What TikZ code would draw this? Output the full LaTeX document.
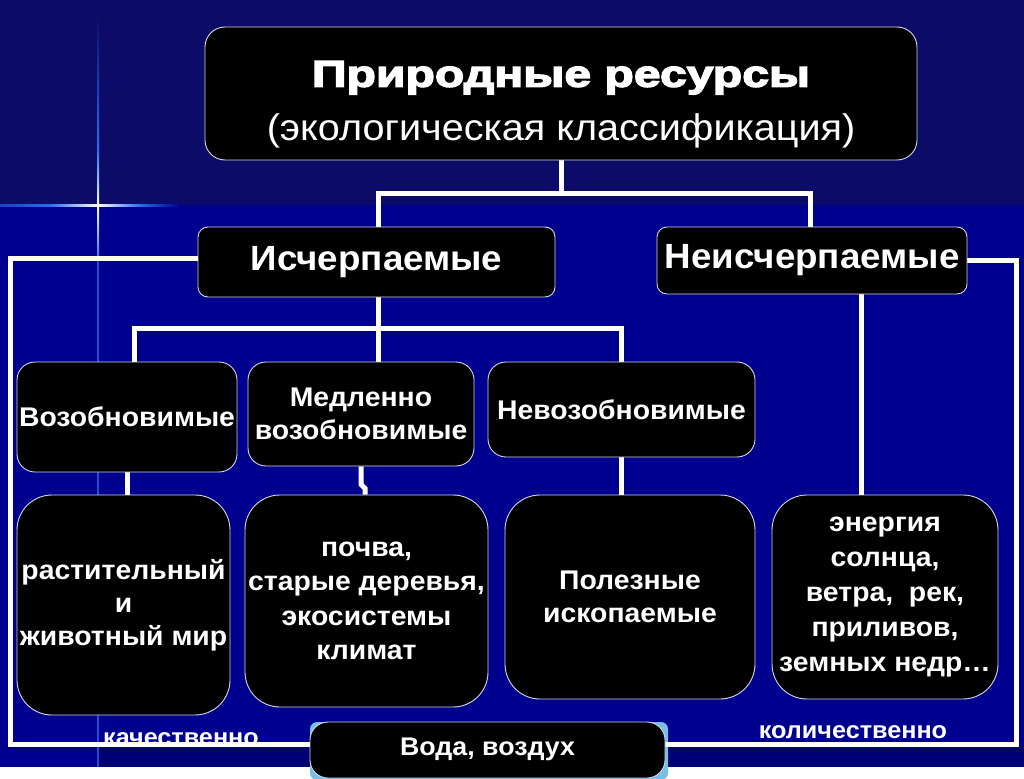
\documentclass[tikz,border=0pt]{standalone}
\usepackage{fontspec}
\setmainfont[FakeStretch=1.05]{Liberation Sans}
\newfontfamily\titlefont[UprightFont={* Bold},FakeStretch=1.30,FakeBold=4]{Liberation Sans}
\newfontfamily\subfont[FakeStretch=1.07]{Liberation Sans}
\usetikzlibrary{calc}
\pgfdeclarelayer{bg}
\pgfdeclarelayer{lines}
\pgfsetlayers{bg,lines,main}
\definecolor{bgtop}{RGB}{12,12,104}
\definecolor{bgbot}{RGB}{0,0,142}
\definecolor{bgdark}{RGB}{0,0,115}
\definecolor{flare}{RGB}{40,110,240}
\definecolor{vodablue}{RGB}{120,190,235}
\definecolor{edge}{RGB}{215,215,225}
\tikzset{
  box/.style={draw=edge, line width=0.9pt, fill=black, text=white, align=center, inner sep=0pt},
  body/.style={font=\bfseries\fontsize{27}{34}\selectfont},
  conn/.style={draw=white, line width=5pt},
  lbl/.style={text=white, font=\bfseries\fontsize{24}{28}\selectfont, inner sep=0pt}
}
\begin{document}
\begin{tikzpicture}[x=1pt,y=-1pt]
\begin{pgfonlayer}{bg}
  \fill[bgtop] (0,0) rectangle (1024,205);
  \fill[bgbot] (0,205) rectangle (1024,767);
  \fill[bgdark] (98,748) rectangle (1024,767);
  \useasboundingbox (0,0) rectangle (1024,767);
  % flare
  \shade[top color=bgtop, bottom color=flare] (97,15) rectangle (99,150);
  \shade[top color=flare, bottom color=white] (97,150) rectangle (99,205);
  \shade[top color=white, bottom color=flare] (97,205) rectangle (99,260);
  \fill[flare!70!bgbot] (97,260) rectangle (99,767);
  \shade[left color=flare!60!bgbot, right color=flare] (0,204) rectangle (50,206);
  \shade[left color=flare, right color=white] (50,204) rectangle (98,206);
  \shade[left color=white, right color=flare] (98,204) rectangle (140,206);
  \shade[left color=flare, right color=bgbot] (140,204) rectangle (180,206);
  \fill[vodablue, rounded corners=7pt] (310,722) rectangle (668,780);
\end{pgfonlayer}

% boxes
\node[box, rounded corners=20pt, minimum width=712pt, minimum height=133pt, font=\fontsize{37}{54}\selectfont] (top) at (561,93.5)
  {{\titlefont\fontsize{37}{54}\selectfont\rule{0pt}{48pt}Природные ресурсы}\\{\subfont\fontsize{37}{54}\selectfont (экологическая классификация)}};
\node[box, rounded corners=10pt, minimum width=357pt, minimum height=70pt, font=\bfseries\fontsize{35}{40}\selectfont] (isch) at (376.5,262) {Исчерпаемые};
\node[box, rounded corners=10pt, minimum width=310pt, minimum height=67pt, font=\bfseries\fontsize{35}{40}\selectfont] (neisch) at (812,260.5) {Неисчерпаемые};
\node[box, body, rounded corners=18pt, minimum width=220pt, minimum height=110pt] (vozob) at (127,417) {Возобновимые};
\node[box, body, rounded corners=18pt, minimum width=226pt, minimum height=104pt, font=\bfseries\fontsize{27}{33}\selectfont] (medl) at (361,414) {Медленно\\возобновимые};
\node[box, body, rounded corners=18pt, minimum width=267pt, minimum height=95pt] (nevozob) at (621.5,409.5) {Невозобновимые};
\node[box, body, rounded corners=35pt, minimum width=213pt, minimum height=220pt, font=\bfseries\fontsize{27}{33}\selectfont] (rast) at (123.5,605) {растительный\\и\\животный мир};
\node[box, body, rounded corners=35pt, minimum width=243pt, minimum height=212pt, font=\bfseries\fontsize{27}{34.5}\selectfont] (pochva) at (366.5,601) {почва,\\старые деревья,\\экосистемы\\климат};
\node[box, body, rounded corners=35pt, minimum width=250pt, minimum height=204pt, font=\bfseries\fontsize{27}{33}\selectfont] (polez) at (630,597) {Полезные\\ископаемые};
\node[box, body, rounded corners=35pt, minimum width=226pt, minimum height=204pt, font=\bfseries\fontsize{27}{35}\selectfont] (energ) at (885,597) {энергия\\солнца,\\ветра,\ \ рек,\\приливов,\\земных недр…};
\node[box, rounded corners=18pt, minimum width=355pt, minimum height=56pt, font=\bfseries\fontsize{25.5}{30}\selectfont, text depth=10pt, text height=20pt] (voda) at (487.5,750) {Вода, воздух};

\begin{pgfonlayer}{lines}
  \node[lbl, anchor=base] (kach) at (181,745) {качественно};
  \node[lbl, anchor=base] (kol) at (853,738) {количественно};
  \coordinate (j1) at (561,193);
  \coordinate (j2) at (378,328);
  \coordinate (lt) at (10,258);
  \coordinate (rb) at (1016,744);
  \draw[conn] (top.south) -- (j1);
  \draw[conn] (isch.north -| 378,0) |- (j1) -| (neisch.north -| 810,0);
  \draw[conn] (isch.west |- lt) -- (lt) |- (rb) |- (neisch.east);
  \draw[conn] (isch.south -| j2) -- (j2);
  \draw[conn] (vozob.north -| 134,0) |- (j2) -| (nevozob.north);
  \draw[conn] (j2) -- (medl.north -| j2);
  \draw[conn] (neisch.south -| 861,0) -- (energ.north -| 861,0);
  \draw[conn] (vozob.south) -- (vozob.south |- rast.north);
  \draw[conn] (medl.south) -- ++(0,18) -- ++(4,4) -- (pochva.north -| 365,0);
  \draw[conn] (nevozob.south) -- (nevozob.south |- polez.north);
\end{pgfonlayer}
\end{tikzpicture}
\end{document}
